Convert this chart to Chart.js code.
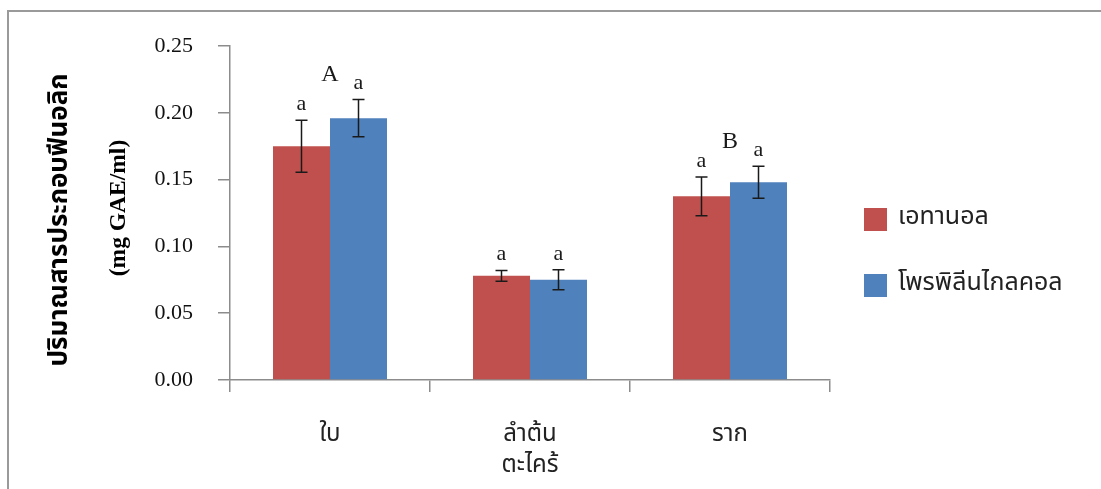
<!DOCTYPE html>
<html>
<head>
<meta charset="utf-8">
<script src="https://cdn.jsdelivr.net/npm/chart.js@4.4.1/dist/chart.umd.min.js"></script>
<style>
    html, body { margin: 0; padding: 0; background: #fff; }
    #wrap { width: 1101px; height: 489px; position: relative; }
</style>
</head>
<body>
<div id="wrap"><canvas id="chart"></canvas></div>
<script>
// Chart data
const categories = ['ใบ', 'ลำต้น', 'ราก'];
const seriesNames = ['เอทานอล', 'โพรพิลีนไกลคอล'];
const ethanol = [0.175, 0.078, 0.1375];
const propylene = [0.196, 0.075, 0.148];
const ethanolErr = [0.0195, 0.004, 0.0145];
const propyleneErr = [0.014, 0.0075, 0.012];
const ethanolLetters = ['a', 'a', 'a'];
const propyleneLetters = ['a', 'a', 'a'];
const groupLetters = ['A', '', 'B'];
const yTicks = [0, 0.05, 0.10, 0.15, 0.20, 0.25];

const thaiFont = 'Tahoma, "Noto Sans Thai", "Noto Sans", sans-serif';
const serifFont = '"Liberation Serif", "Times New Roman", serif';
const axisGray = '#8c8c8c';

document.addEventListener('DOMContentLoaded', () => {
    const errors = [ethanolErr, propyleneErr];
    const letters = [ethanolLetters, propyleneLetters];

    // error bars, significance letters, legend, y title and frame
    const extras = {
        id: 'extras',
        afterDatasetsDraw(chart) {
            const ctx = chart.ctx;
            const y = chart.scales.y;
            const groupTop = categories.map(() => Infinity);
            ctx.save();
            chart.data.datasets.forEach((ds, di) => {
                const meta = chart.getDatasetMeta(di);
                meta.data.forEach((bar, i) => {
                    const v = ds.data[i];
                    const e = errors[di][i];
                    const top = y.getPixelForValue(v + e);
                    const bot = y.getPixelForValue(v - e);
                    ctx.strokeStyle = '#1a1a1a';
                    ctx.lineWidth = 1.5;
                    ctx.beginPath();
                    ctx.moveTo(bar.x, top); ctx.lineTo(bar.x, bot);
                    ctx.moveTo(bar.x - 6, top); ctx.lineTo(bar.x + 6, top);
                    ctx.moveTo(bar.x - 6, bot); ctx.lineTo(bar.x + 6, bot);
                    ctx.stroke();
                    ctx.fillStyle = '#1a1a1a';
                    ctx.font = '22px ' + serifFont;
                    ctx.textAlign = 'center';
                    ctx.textBaseline = 'middle';
                    ctx.fillText(letters[di][i], bar.x, top - 16);
                    groupTop[i] = Math.min(groupTop[i], top - 16);
                });
            });
            const x = chart.scales.x;
            ctx.font = '24px ' + serifFont;
            groupLetters.forEach((g, i) => {
                if (!g) return;
                ctx.fillText(g, x.getPixelForValue(i), groupTop[i] - 9);
            });

            // legend
            ctx.textAlign = 'left';
            ctx.font = '25px ' + thaiFont;
            chart.data.datasets.forEach((ds, di) => {
                const cy = 219 + di * 66;
                ctx.fillStyle = ds.backgroundColor;
                ctx.fillRect(864, cy - 11, 23, 23);
                ctx.fillStyle = '#222';
                ctx.fillText(ds.label, 898, cy);
            });

            // y axis title, two rotated lines
            ctx.fillStyle = '#000';
            ctx.textAlign = 'center';
            ctx.save();
            ctx.translate(62, 220);
            ctx.rotate(-Math.PI / 2);
            ctx.font = 'bold 26px ' + thaiFont;
            ctx.fillText('ปริมาณสารประกอบฟีนอลิก', 0, 0);
            ctx.restore();
            ctx.save();
            ctx.translate(119, 208);
            ctx.rotate(-Math.PI / 2);
            ctx.font = 'bold 23.5px ' + serifFont;
            ctx.fillText('(mg GAE/ml)', 0, 0);
            ctx.restore();

            // outer frame (top and left edges)
            ctx.strokeStyle = '#9a9a9a';
            ctx.lineWidth = 2;
            ctx.beginPath();
            ctx.moveTo(8, 489); ctx.lineTo(8, 11); ctx.lineTo(1101, 11);
            ctx.stroke();
            ctx.restore();
        }
    };

    new Chart(document.getElementById('chart'), {
        type: 'bar',
        data: {
            labels: categories,
            datasets: [
                { label: seriesNames[0], data: ethanol, backgroundColor: '#C0504D' },
                { label: seriesNames[1], data: propylene, backgroundColor: '#4F81BD' }
            ]
        },
        options: {
            responsive: true,
            maintainAspectRatio: false,
            animation: false,
            datasets: { bar: { categoryPercentage: 0.57, barPercentage: 1 } },
            layout: { padding: { left: 0, right: 271, top: 46, bottom: 0 } },
            plugins: { legend: { display: false }, tooltip: { enabled: false } },
            scales: {
                x: {
                    afterFit: s => { s.height = 109; },
                    grid: { offset: true, drawOnChartArea: false, tickLength: 12, color: axisGray, lineWidth: 1.5 },
                    border: { color: axisGray, width: 1.5 },
                    ticks: { color: '#222', font: { family: thaiFont, size: 24 }, padding: 30 },
                    title: {
                        display: true,
                        text: 'ตะไคร้',
                        color: '#222',
                        font: { family: thaiFont, size: 24 },
                        padding: { top: 0, bottom: 7 }
                    }
                },
                y: {
                    min: 0,
                    max: 0.25,
                    afterFit: s => { s.width = 230; },
                    afterBuildTicks: s => { s.ticks = yTicks.map(v => ({ value: v })); },
                    grid: { drawOnChartArea: false, tickLength: 12, color: axisGray, lineWidth: 1.5 },
                    border: { color: axisGray, width: 1.5 },
                    ticks: {
                        color: '#111',
                        padding: 25,
                        font: { family: serifFont, size: 22 },
                        callback: v => v.toFixed(2)
                    }
                }
            }
        },
        plugins: [extras]
    });
});
</script>
</body>
</html>
